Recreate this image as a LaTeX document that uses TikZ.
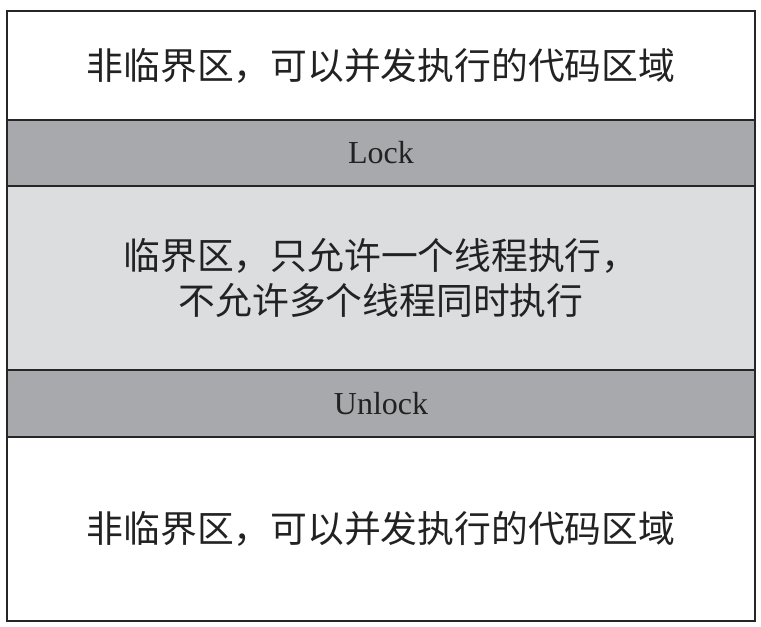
\documentclass[tikz,border=0pt]{standalone}
\usepackage{fontspec}
\newfontfamily\cjk{Noto Sans CJK SC}
\newfontfamily\latin{Liberation Serif}
\usetikzlibrary{positioning}

\definecolor{bargray}{HTML}{A8A9AD}
\definecolor{zonegray}{HTML}{DCDDDF}
\definecolor{inkgray}{HTML}{222222}

\begin{document}
\begin{tikzpicture}[x=1pt,y=1pt]
\tikzset{every node/.style={shape=rectangle, draw=black!85, line width=1.6pt, outer sep=0pt, inner sep=0pt, minimum width=748pt, text=inkgray},
  region/.style={fill=white, font=\cjk\fontsize{36.8}{45}\selectfont, align=center},
  lockbar/.style={fill=bargray, minimum height=66pt, font=\latin\fontsize{32}{36}\selectfont}}
\useasboundingbox (0,0) rectangle (761,-627);
\node [region, minimum height=109pt] at (381,-65.5) (free1) {非临界区，可以并发执行的代码区域};
\node [lockbar, below=0pt of free1] (lock) {Lock};
\node [region, fill=zonegray, minimum height=184pt, below=0pt of lock] (crit) {临界区，只允许一个线程执行，\\不允许多个线程同时执行};
\node [lockbar, minimum height=67pt, below=0pt of crit] (unlock) {Unlock};
\node [region, minimum height=184pt, below=0pt of unlock] (free2) {非临界区，可以并发执行的代码区域};
\end{tikzpicture}
\end{document}
